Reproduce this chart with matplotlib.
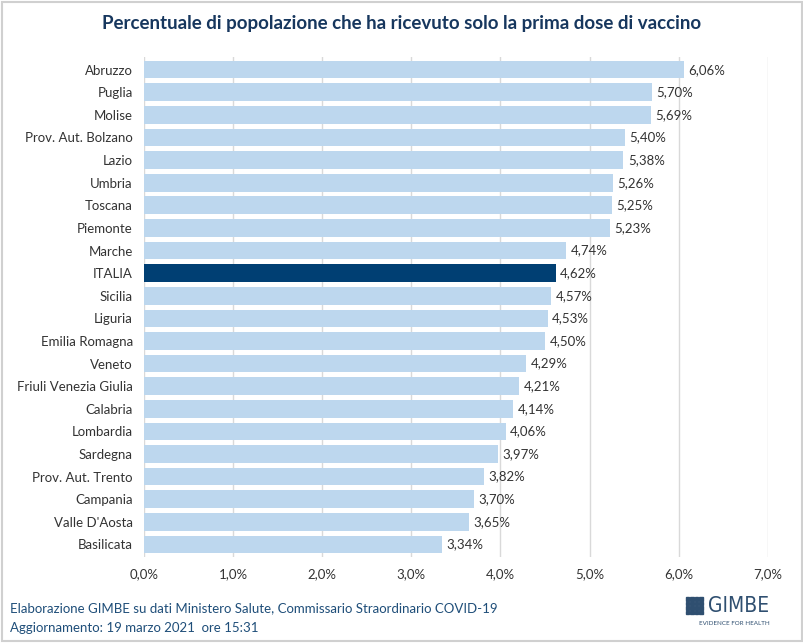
import numpy as np
import matplotlib.pyplot as plt
from matplotlib.patches import Rectangle

plt.rcParams['font.family'] = ['Lato', 'DejaVu Sans']

regioni = ['Abruzzo', 'Puglia', 'Molise', 'Prov. Aut. Bolzano', 'Lazio', 'Umbria',
           'Toscana', 'Piemonte', 'Marche', 'ITALIA', 'Sicilia', 'Liguria',
           'Emilia Romagna', 'Veneto', 'Friuli Venezia Giulia', 'Calabria',
           'Lombardia', 'Sardegna', 'Prov. Aut. Trento', 'Campania',
           "Valle D'Aosta", 'Basilicata']
valori = [6.06, 5.70, 5.69, 5.40, 5.38, 5.26, 5.25, 5.23, 4.74, 4.62, 4.57, 4.53,
          4.50, 4.29, 4.21, 4.14, 4.06, 3.97, 3.82, 3.70, 3.65, 3.34]
xticks = [0, 1, 2, 3, 4, 5, 6, 7]

light = '#BDD7EE'
dark = '#003F73'

fig = plt.figure(figsize=(8.04, 6.43), dpi=100)
ax = fig.add_axes([0.179, 0.134, 0.776, 0.777])

y = np.arange(len(regioni))
colors = [dark if r == 'ITALIA' else light for r in regioni]
ax.barh(y, valori, height=0.78, color=colors, zorder=2)
for yi, v in zip(y, valori):
    ax.text(v + 0.05, yi, f'{v:.2f}%'.replace('.', ','), va='center', ha='left',
            fontsize=9.5, color='#333333')

ax.set_ylim(len(regioni) - 0.45, -0.55)
ax.set_xlim(0, 7)
ax.set_yticks(y)
ax.set_yticklabels(regioni, fontsize=9.5, color='#333333')
ax.set_xticks(xticks)
ax.set_xticklabels([f'{t:.1f}%'.replace('.', ',') for t in xticks], fontsize=9.5, color='#333333')
ax.tick_params(length=0, pad=8)
ax.xaxis.grid(True, color='#D9D9D9', linewidth=1, zorder=0)
for s in ax.spines.values():
    s.set_visible(False)

fig.text(0.5, 0.963, 'Percentuale di popolazione che ha ricevuto solo la prima dose di vaccino',
         ha='center', va='center', fontsize=13.5, fontweight='bold', color='#17375E')

fig.text(0.012, 0.054, 'Elaborazione GIMBE su dati Ministero Salute, Commissario Straordinario COVID-19',
         fontsize=9.5, color='#1F4E79', va='center')
fig.text(0.012, 0.023, 'Aggiornamento: 19 marzo 2021  ore 15:31',
         fontsize=9.5, color='#1F4E79', va='center')

# logo GIMBE
logo_col = '#2F4F70'
fig.text(0.957, 0.058, 'GIMBE', fontsize=15, color=logo_col, ha='right', va='center',
         family=['DejaVu Sans'], fontstretch='condensed')
fig.text(0.957, 0.030, 'EVIDENCE FOR HEALTH', fontsize=4.5, color=logo_col, ha='right', va='center')
for i in range(4):
    for j in range(4):
        fig.patches.append(Rectangle((0.853 + i * 0.0055, 0.045 + j * 0.0068), 0.0045, 0.0055,
                                     transform=fig.transFigure, color=logo_col))
fig.patches.append(Rectangle((0.002, 0.003), 0.996, 0.994, transform=fig.transFigure,
                             fill=False, edgecolor='#D0D0D0', linewidth=1.5))

fig.savefig('out.png', dpi=100)
